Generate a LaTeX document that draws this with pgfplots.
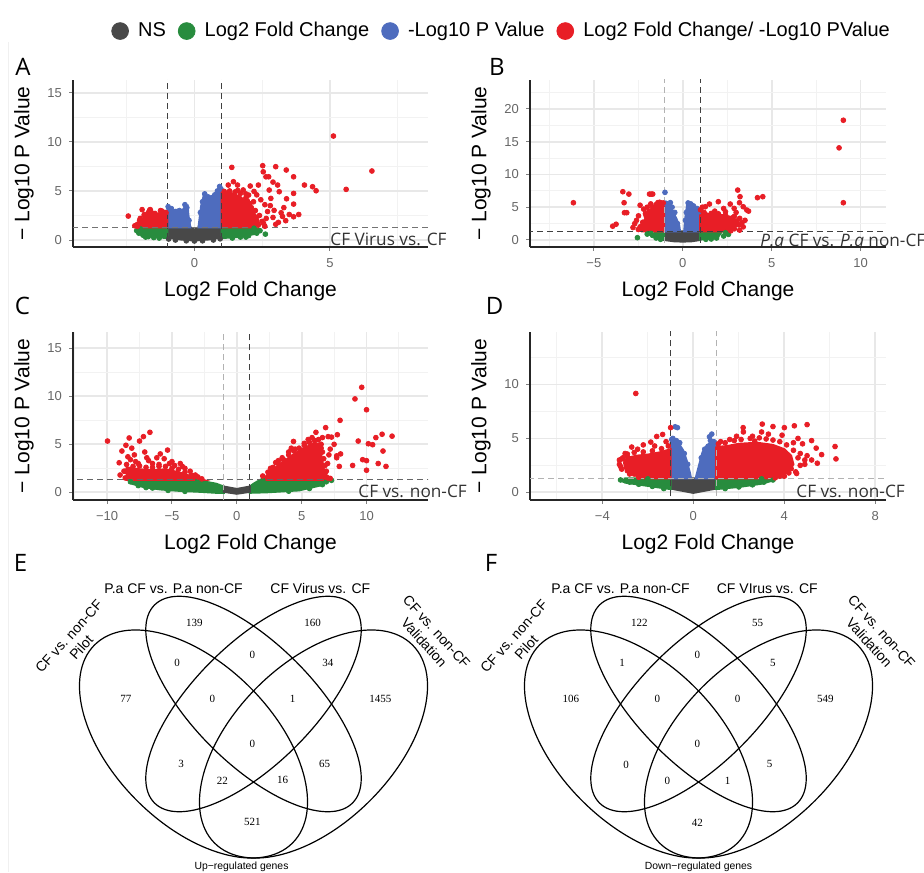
\documentclass[border=0pt]{standalone}
\usepackage{fontspec}
\setmainfont{Liberation Sans}
\newfontfamily\annfont{Open Sans}
\newfontfamily\numfont{Liberation Serif}
\usepackage{pgfplots}
\pgfplotsset{compat=1.18}

\definecolor{nsgrey}{RGB}{72,72,72}
\definecolor{fcgreen}{RGB}{40,140,62}
\definecolor{pblue}{RGB}{78,108,190}
\definecolor{bothred}{RGB}{232,30,38}

\pgfplotsset{
  volc/.style={
    scale only axis, anchor=south west,
    axis x line*=bottom, axis y line*=left,
    axis line style={black!85, line width=0.8pt},
    grid=both,
    major grid style={black!9, line width=0.9pt},
    minor grid style={black!5, line width=0.5pt},
    tick style={black!50, line width=0.5pt}, tick align=outside,
    major tick length=2pt, minor tick length=0pt,
    ticklabel style={font=\fontsize{6.5}{7}\selectfont, text=black!60},
    xlabel={Log2 Fold Change}, ylabel={− Log10 P Value},
    label style={font=\fontsize{10.5}{12}\selectfont},
    /pgf/number format/assume math mode=true,
    clip=true,
  },
  pts/.style={only marks, mark=*, mark size=1.2pt, forget plot, color=#1},
  blob/.style={fill=#1, draw=#1, line width=1pt, forget plot},
  dk/.style={black!75, line width=0.5pt, dash pattern=on 3pt off 2pt, forget plot},
  lt/.style={black!30, line width=0.5pt, dash pattern=on 3pt off 2pt, forget plot},
  venn/.style={x=200pt, y=200pt, xmin=0, xmax=1, ymin=0.15, ymax=1,
    anchor=south west, hide axis, clip=false},
}

\begin{document}
\begin{tikzpicture}
\useasboundingbox (0,0) rectangle (462pt,436pt);
\draw[black!6, line width=0.5pt] (4pt,0pt) -- (4pt,415pt);

% ---------------- A ----------------
\begin{axis}[volc, at={(36.5pt,312.5pt)}, width=177.5pt, height=83.5pt,
  xmin=-4.48, xmax=8.62, ymin=-0.71, ymax=16.3,
  xtick={0,5}, minor xtick={-2.5,2.5,7.5},
  ytick={0,5,10,15}, minor ytick={2.5,7.5,12.5},
  legend style={at={(axis description cs:1.21,1.293)}, anchor=center,
    draw=none, fill=none, legend columns=4,
    font=\fontsize{10}{12}\selectfont,
    /tikz/every even column/.append style={column sep=4pt}},
  legend image code/.code={\fill[#1] (0pt,0pt) circle (4.2pt); \path[draw=none,fill=none] (-4.2pt,0pt) (7pt,0pt);},
]
  \addplot[blob=nsgrey] coordinates {(-1,1.3) (-1,0.25) (-0.5,0.05) (0,-0.05) (0.5,0.05) (1,0.25) (1,1.3) (0.15,1.3) (0,1.05) (-0.15,1.3)} -- cycle;
  \addplot[blob=fcgreen] coordinates {(-1,1.3) (-1,0.2) (-1.5,0.3) (-2.0,0.6) (-2.1,1.0) (-1.9,1.3)} -- cycle;
  \addplot[blob=fcgreen] coordinates {(1,1.3) (1,0.2) (1.6,0.3) (2.2,0.6) (2.4,1.0) (2.3,1.3)} -- cycle;
  \addplot[blob=pblue] coordinates {(-1,1.3) (-1,3.3) (-0.8,3.0) (-0.6,3.1) (-0.5,2.8) (-0.35,3.4) (-0.25,3.5) (-0.22,2.5) (-0.15,1.3)} -- cycle;
  \addplot[blob=pblue] coordinates {(0.15,1.3) (0.25,3.5) (0.35,4.6) (0.45,4.3) (0.6,4.2) (0.8,4.9) (0.95,5.4) (1,5.3) (1,1.3)} -- cycle;
  \addplot[blob=bothred] coordinates {(-1,1.3) (-1,2.7) (-1.2,2.9) (-1.4,2.6) (-1.6,3.0) (-1.8,2.4) (-2.0,1.9) (-2.05,1.3)} -- cycle;
  \addplot[blob=bothred] coordinates {(1,1.3) (1,4.8) (1.4,4.75) (1.7,4.4) (1.9,3.9) (2.1,3.1) (2.3,2.4) (2.4,1.6) (2.35,1.3)} -- cycle;
  \addplot[pts=nsgrey] coordinates {(-0.95,0.1) (-0.7,0.0) (0.7,0.0) (0.95,0.12) (0,-0.1) (-0.3,-0.08) (0.3,-0.08)};
  \addplot[pts=fcgreen] coordinates {(-2.13,0.95) (-2.05,0.7) (-1.9,0.5) (-1.7,0.35) (-1.5,0.25) (-1.3,0.2) (-2.0,1.15) (-1.8,0.3)
    (2.42,0.95) (2.3,0.7) (2.0,0.45) (1.7,0.3) (1.4,0.2) (2.62,0.6) (2.2,1.2) (1.9,0.3)};
  \addplot[pts=pblue] coordinates {(-0.97,3.4) (-0.85,3.2) (-0.7,2.9) (-0.55,3.0) (-0.35,3.6) (-0.28,3.3) (-0.2,2.0) (-0.6,2.7)
    (0.38,4.7) (0.5,4.4) (0.62,4.3) (0.75,4.6) (0.85,5.0) (0.93,5.45) (0.22,2.8) (0.3,3.9) (0.98,5.2)};
  \addplot[pts=bothred] coordinates {(-2.44,2.44) (-1.93,3.1) (-1.63,3.1) (-2.0,2.2) (-2.1,1.6) (-1.7,2.8) (-1.5,2.7) (-1.2,2.95)
    (-2.2,1.45) (-1.85,2.6) (-1.3,2.5) (-1.1,2.8) (-1.05,2.8) (-1.25,3.0) (-1.45,2.7) (-1.65,3.05) (-1.85,2.5) (-2.02,2.0) (-2.1,1.4)
    (1.38,7.40) (2.52,7.57) (2.54,6.95) (2.64,6.44) (2.74,6.44) (3.0,7.47) (3.39,7.13) (3.66,6.44) (4.06,5.6) (4.36,5.43)
    (4.49,5.02) (3.66,4.75) (3.66,3.66) (3.66,2.37) (3.85,2.6) (3.07,5.6) (3.13,4.92) (2.76,5.09) (2.82,4.24) (3.2,2.78)
    (3.37,1.97) (2.94,3.02) (2.36,5.6) (2.06,5.5) (2.0,4.58) (1.44,5.94) (1.59,5.6) (1.25,5.6) (2.55,1.7) (2.36,1.53)
    (2.18,3.9) (5.13,10.59) (6.55,7.03) (5.6,5.16) (2.3,4.6) (2.6,3.6) (2.7,2.9) (2.9,2.3) (3.1,1.8) (2.45,4.1)
    (2.8,3.5) (3.3,3.3) (3.5,2.6) (1.8,5.1) (2.2,4.95) (2.9,5.9) (3.4,4.2) (2.65,2.2) (3.0,1.6) (1.9,4.7) (3.25,2.4)
    (1.1,4.95) (1.3,5.0) (1.5,4.9) (1.7,4.75) (1.9,4.3) (2.05,3.7) (2.25,3.0) (2.4,2.5) (2.5,1.9) (1.2,4.7) (1.6,5.05)
    (2.1,3.3) (2.3,2.0) (1.95,4.0) (2.6,1.4)};
  \addplot[dk] coordinates {(-1,-5) (-1,30)};
  \addplot[dk] coordinates {(1,-5) (1,30)};
  \addplot[black!55, line width=0.5pt, dash pattern=on 3pt off 2pt, forget plot] coordinates {(-20,1.3) (20,1.3)};
  \addlegendimage{nsgrey}\addlegendentry{NS}
  \addlegendimage{fcgreen}\addlegendentry{Log2 Fold Change}
  \addlegendimage{pblue}\addlegendentry{-Log10 P Value}
  \addlegendimage{bothred}\addlegendentry{Log2 Fold Change/ -Log10 PValue}
\end{axis}

% ---------------- B ----------------
\begin{axis}[volc, at={(265pt,312.5pt)}, width=178pt, height=83.5pt,
  xmin=-8.59, xmax=11.43, ymin=-1.07, ymax=24.4,
  xtick={-5,0,5,10}, xticklabels={−5,0,5,10}, minor xtick={-7.5,-2.5,2.5,7.5},
  ytick={0,5,10,15,20}, minor ytick={2.5,7.5,12.5,17.5,22.5},
]
  \addplot[blob=nsgrey] coordinates {(-1.05,1.3) (-1.05,0.0) (-0.5,-0.2) (0,-0.25) (0.5,-0.2) (0.97,0.0) (0.97,1.3)} -- cycle;
  \addplot[blob=fcgreen] coordinates {(-1.05,1.3) (-1.05,0.1) (-1.4,0.2) (-1.6,0.6) (-1.6,1.3)} -- cycle;
  \addplot[blob=fcgreen] coordinates {(0.97,1.3) (0.97,0.05) (1.5,0.2) (2.0,0.5) (2.2,1.3)} -- cycle;
  \addplot[blob=pblue] coordinates {(-1.05,1.3) (-1.05,5.5) (-0.75,5.2) (-0.55,4.3) (-0.35,3.2) (-0.2,2.2) (-0.15,1.3)} -- cycle;
  \addplot[blob=pblue] coordinates {(0.08,1.3) (0.15,3.5) (0.25,5.5) (0.45,5.6) (0.7,5.0) (0.97,4.4) (0.97,1.3)} -- cycle;
  \addplot[blob=bothred] coordinates {(-1.05,1.3) (-1.05,5.5) (-1.3,5.6) (-1.6,5.2) (-1.9,4.2) (-2.1,3.3) (-2.3,2.4) (-2.4,1.8) (-2.3,1.3)} -- cycle;
  \addplot[blob=bothred] coordinates {(0.97,1.3) (0.97,4.5) (1.4,4.0) (2.0,3.9) (2.6,3.6) (3.0,3.0) (3.1,2.4) (2.8,1.6) (2.6,1.3)} -- cycle;
  \addplot[pts=fcgreen] coordinates {(-2.55,0.35) (-1.7,0.7) (-1.5,0.3) (-1.25,0.1) (-1.8,1.0) (-2.0,0.9)
    (2.57,0.85) (2.3,0.6) (1.9,0.3) (1.6,0.15) (2.4,1.1) (1.3,0.1)};
  \addplot[pts=pblue] coordinates {(-1.0,7.26) (-0.95,5.6) (-0.8,5.4) (-0.6,5.0) (-0.45,4.2) (-0.3,2.5) (-0.7,5.7)
    (0.3,5.65) (0.45,5.5) (0.6,5.2) (0.8,4.8) (0.9,4.3) (0.15,3.0) (0.2,4.2)};
  \addplot[pts=bothred] coordinates {(-6.15,5.68) (-3.94,2.1) (-3.75,2.4) (-3.37,7.36) (-3.03,7.0) (-3.3,5.68) (-3.28,4.16)
    (-3.15,4.16) (-2.40,5.3) (-2.49,3.68) (-2.3,2.15) (-1.87,7.0) (-1.69,7.0) (-1.78,7.0) (-2.6,3.0) (-2.2,4.7) (-2.0,5.0)
    (-1.8,5.5) (-1.4,5.7) (-2.7,2.5) (-2.5,1.6) (-2.1,4.0) (-2.8,1.9) (-1.2,5.6)
    (-1.1,5.65) (-1.3,5.75) (-1.5,5.4) (-1.7,5.0) (-1.9,4.4) (-2.05,3.6) (-2.25,2.7) (-2.4,2.0)
    (3.09,7.61) (3.22,6.6) (3.19,5.68) (2.89,4.82) (2.67,5.48) (2.0,5.84) (1.5,5.48) (1.27,5.07) (4.2,6.45) (4.5,6.6)
    (3.4,5.07) (3.6,4.57) (3.7,4.4) (3.33,2.62) (3.2,3.3) (2.9,3.6) (9.03,18.26) (8.79,14.05) (9.03,5.68) (2.4,4.3)
    (3.5,3.0) (2.3,4.8) (1.1,5.0) (3.0,4.2) (1.8,4.4) (3.4,2.0) (2.2,2.0) (3.2,1.5)
    (1.0,4.6) (1.2,4.2) (1.6,4.05) (2.0,4.0) (2.4,3.8) (2.8,3.4) (3.05,2.9) (3.15,2.3) (2.9,1.7) (2.7,1.4)};
  \addplot[lt] coordinates {(-1,-5) (-1,30)};
  \addplot[dk] coordinates {(1,-5) (1,30)};
  \addplot[dk] coordinates {(-20,1.3) (20,1.3)};
\end{axis}

% ---------------- C ----------------
\begin{axis}[volc, at={(36.5pt,186pt)}, width=177.5pt, height=84pt,
  xmin=-12.63, xmax=14.74, ymin=-0.8, ymax=16.7,
  xtick={-10,-5,0,5,10}, xticklabels={−10,−5,0,5,10}, minor xtick={-12.5,-7.5,-2.5,2.5,7.5,12.5},
  ytick={0,5,10,15}, minor ytick={2.5,7.5,12.5},
]
  \addplot[blob=fcgreen] coordinates {(-8.1,1.3) (-8.1,0.9) (-7.2,0.55) (-5.9,0.3) (-4.4,0.15) (-2.8,0.05) (-1.6,-0.05) (-1,-0.05)
    (-1,0.6) (-1.6,0.9) (-2.8,1.2) (-3.2,1.3)} -- cycle;
  \addplot[blob=fcgreen] coordinates {(1,0.6) (1,-0.05) (2.3,0.0) (4.8,0.2) (6.4,0.7) (6.8,1.0) (6.8,1.3) (1.8,1.3) (1.3,0.9)} -- cycle;
  \addplot[blob=nsgrey] coordinates {(-1,0.6) (-1,0.05) (0,-0.15) (1,0.05) (1,0.6) (0,0.35)} -- cycle;
  \addplot[blob=bothred] coordinates {(-8.5,1.3) (-8.5,2.6) (-7.5,2.4) (-6.5,2.3) (-5.5,2.4) (-4.5,2.1) (-3.8,1.8) (-3.0,1.45) (-2.6,1.3)} -- cycle;
  \addplot[blob=bothred] coordinates {(2.0,1.3) (2.4,1.9) (3.1,2.7) (4,3.6) (5,4.5) (5.8,5.0) (6.3,5.1) (6.5,4.0) (6.7,2.5) (6.9,1.3)} -- cycle;
  \addplot[pts=fcgreen] coordinates {(-8.2,1.1) (-7.6,0.7) (-6.5,0.45) (-5.3,0.2) (6.9,1.1) (6.6,0.8) (5.6,0.4) (-3.0,1.25)
    (2.0,1.25) (-7.0,0.5) (4.0,0.12) (-4.0,0.1) (7.3,1.25)};
  \addplot[pts=bothred] coordinates {(-9.97,5.34) (-9.07,3.08) (-8.86,4.3) (-8.55,4.9) (-8.3,5.66) (-7.5,5.34) (-7.2,5.8)
    (-6.7,6.25) (-8.1,4.6) (-7.9,3.9) (-6.94,3.6) (-6.17,3.6) (-5.9,4.0) (-5.34,4.4) (-4.36,3.0) (-5.0,3.2) (-7.6,3.0)
    (-8.2,3.4) (-6.5,3.0) (-5.6,3.5) (-4.8,2.8) (-3.6,2.2) (-3.2,1.8) (-8.7,2.2) (-9.0,1.8) (-7.1,4.2) (-6.0,2.9)
    (-4.0,2.5) (-8.4,3.7)
    (-8.5,2.9) (-8.0,2.7) (-7.5,2.75) (-7.0,2.6) (-6.5,2.6) (-6.0,2.7) (-5.5,2.7) (-5.0,2.5) (-4.5,2.4) (-4.0,2.1)
    (-3.5,1.8) (-3.0,1.6) (-2.7,1.4) (-8.6,1.5) (-8.6,2.2) (-7.8,3.2) (-6.8,3.3) (-5.2,3.0) (-4.2,2.7)
    (9.63,10.94) (9.11,9.73) (10.0,8.6) (7.96,7.5) (6.85,6.74) (7.04,5.8) (7.3,5.75) (7.75,6.0) (7.5,5.0) (9.36,5.34)
    (10.14,5.06) (10.47,4.96) (10.72,5.7) (11.2,6.05) (11.97,5.85) (11.27,4.3) (9.7,3.4) (10.0,3.3) (10.9,3.0) (11.5,2.7)
    (10.0,2.3) (8.93,2.8) (7.9,2.7) (7.7,3.8) (7.1,3.9) (7.2,1.45) (4.37,5.3) (6.1,6.25) (6.6,5.7) (5.5,5.5) (6.0,5.0)
    (7.0,3.0) (6.8,2.0) (7.2,4.5) (3.5,3.6) (4.5,4.5) (5.2,5.1) (6.5,4.6) (2.6,2.5) (3.2,3.3) (4.0,4.2) (6.9,1.6)
    (7.7,3.6) (8.0,4.0)
    (2.0,1.7) (2.4,2.1) (2.8,2.6) (3.2,3.0) (3.6,3.4) (4.0,3.9) (4.4,4.3) (4.8,4.6) (5.2,4.9) (5.6,5.2) (6.0,5.4)
    (6.3,5.5) (6.5,5.0) (6.6,4.2) (6.7,3.5) (6.8,2.8) (6.9,2.2) (7.0,1.5) (3.0,3.1) (4.2,4.6) (5.8,5.7)};
  \addplot[lt] coordinates {(-1,-5) (-1,30)};
  \addplot[dk] coordinates {(1,-5) (1,30)};
  \addplot[black!60, line width=0.5pt, dash pattern=on 3pt off 2pt, forget plot] coordinates {(-20,1.3) (20,1.3)};
\end{axis}

% ---------------- D ----------------
\begin{axis}[volc, at={(265pt,186pt)}, width=178pt, height=84pt,
  xmin=-7.18, xmax=8.47, ymin=-0.71, ymax=14.87,
  xtick={-4,0,4,8}, xticklabels={−4,0,4,8}, minor xtick={-6,-2,2,6},
  ytick={0,5,10}, minor ytick={2.5,7.5,12.5},
]
  \addplot[blob=nsgrey] coordinates {(-1,1.3) (-1,0.35) (-0.5,0.15) (0,-0.05) (0.5,0.15) (1,0.35) (1,1.3)} -- cycle;
  \addplot[blob=fcgreen] coordinates {(-1,1.3) (-1,0.3) (-2,0.6) (-3,0.9) (-3.2,1.1) (-3.0,1.3)} -- cycle;
  \addplot[blob=fcgreen] coordinates {(1,1.3) (1,0.3) (2,0.5) (3,0.8) (3.5,1.1) (3.4,1.3)} -- cycle;
  \addplot[blob=pblue] coordinates {(-1,1.3) (-1,4.6) (-0.85,4.9) (-0.6,4.4) (-0.45,3.9) (-0.3,3.0) (-0.15,1.8) (-0.1,1.3)} -- cycle;
  \addplot[blob=pblue] coordinates {(0.1,1.3) (0.25,2.5) (0.4,3.7) (0.6,4.4) (0.8,4.6) (1,4.4) (1,1.3)} -- cycle;
  \addplot[blob=bothred] coordinates {(-1,1.3) (-1,4.0) (-1.5,3.7) (-2,3.5) (-2.5,3.4) (-2.9,3.2) (-3.05,2.8) (-3.0,2.2) (-2.6,1.6) (-2.2,1.3)} -- cycle;
  \addplot[blob=bothred] coordinates {(1,1.3) (1,4.2) (1.5,4.3) (2,4.5) (2.8,4.6) (3.5,4.4) (4.0,4.0) (4.3,3.4) (4.4,2.6) (4.2,1.9) (3.5,1.3)} -- cycle;
  \addplot[pts=fcgreen] coordinates {(-3.2,1.15) (-2.8,0.95) (-2.4,0.75) (-1.8,0.55) (-1.3,0.35) (-2.0,1.25)
    (3.5,1.15) (3.1,0.95) (2.6,0.7) (2.0,0.5) (1.4,0.35) (3.0,1.25)};
  \addplot[pts=pblue] coordinates {(-0.8,6.08) (-0.7,6.0) (-0.9,5.0) (-0.75,4.8) (-0.6,4.6) (-0.95,4.9) (-0.4,3.6) (-0.25,2.6)
    (0.81,5.4) (0.71,5.15) (0.75,4.8) (0.9,4.7) (0.5,4.0) (0.35,3.2) (0.95,4.5)};
  \addplot[pts=bothred] coordinates {(-2.53,9.17) (-2.71,4.2) (-1.87,4.66) (-1.61,5.18) (-1.35,5.37) (-1.0,6.0) (-2.2,4.4)
    (-2.45,4.0) (-3.0,3.6) (-3.25,3.0) (-3.2,2.4) (-2.9,2.0) (-1.2,4.7) (-1.7,4.3) (-2.9,3.3) (-2.6,1.7) (-3.1,3.2)
    (-1.1,4.3) (-1.4,4.05) (-1.8,3.85) (-2.2,3.75) (-2.6,3.7) (-2.9,3.55) (-3.15,3.1) (-3.25,2.6) (-3.15,2.15) (-2.8,1.7) (-2.4,1.4)
    (2.19,6.0) (3.03,6.33) (3.5,6.1) (4.0,6.0) (4.44,6.17) (5.0,6.28) (5.2,4.8) (5.4,4.1) (5.64,3.5) (6.23,4.25)
    (6.27,3.1) (5.45,2.7) (4.9,2.6) (4.54,1.75) (4.2,1.8) (4.7,3.6) (5.0,3.4) (4.8,4.5) (3.3,5.4) (2.6,5.2) (1.6,4.9)
    (3.9,5.3) (4.6,5.0) (4.3,2.2) (4.9,3.0) (3.8,1.5) (4.4,4.6) (2.2,5.6) (1.2,4.7) (5.2,3.0)
    (1.1,4.5) (1.4,4.6) (1.8,4.8) (2.1,4.9) (2.5,5.0) (2.9,5.05) (3.2,4.95) (3.5,4.85) (3.8,4.7) (4.1,4.4) (4.4,3.9)
    (4.6,3.2) (4.7,2.5) (4.5,1.9) (4.0,1.5) (3.6,1.35) (2.7,4.75) (1.9,5.2) (3.0,5.6)};
  \addplot[dk] coordinates {(-1,-5) (-1,30)};
  \addplot[lt] coordinates {(1,-5) (1,30)};
  \addplot[lt] coordinates {(-20,1.3) (20,1.3)};
\end{axis}

% panel annotations
\node[font=\annfont\fontsize{8.6}{10}\selectfont, text=black!80, anchor=west, inner sep=0pt] at (165pt,316.5pt) {CF Virus vs. CF};
\node[font=\annfont\fontsize{8.6}{10}\selectfont, text=black!80, anchor=west, inner sep=0pt] at (380pt,316pt) {{\itshape P.a} CF vs. {\itshape P.a} non-CF};
\node[font=\annfont\fontsize{8.6}{10}\selectfont, text=black!80, anchor=west, inner sep=0pt] at (179pt,190.5pt) {CF vs. non-CF};
\node[font=\annfont\fontsize{8.6}{10}\selectfont, text=black!80, anchor=west, inner sep=0pt] at (398pt,190.5pt) {CF vs. non-CF};

% ---------------- E ----------------
\begin{axis}[venn, at={(26.75pt,0pt)}]
  \draw[line width=0.6pt, rotate around={-45:(axis cs:0.35,0.47)}] (axis cs:0.35,0.47) ellipse [x radius=70pt, y radius=40pt];
  \draw[line width=0.6pt, rotate around={-45:(axis cs:0.5,0.57)}] (axis cs:0.5,0.57) ellipse [x radius=70pt, y radius=30pt];
  \draw[line width=0.6pt, rotate around={45:(axis cs:0.5,0.57)}] (axis cs:0.5,0.57) ellipse [x radius=70pt, y radius=30pt];
  \draw[line width=0.6pt, rotate around={45:(axis cs:0.65,0.47)}] (axis cs:0.65,0.47) ellipse [x radius=70pt, y radius=40pt];
  \begin{scope}[every node/.style={font=\numfont\fontsize{5.5}{6}\selectfont}]
    \node at (axis cs:0.352,0.772) {139};
    \node at (axis cs:0.648,0.772) {160};
    \node at (axis cs:0.309,0.672) {0};
    \node at (axis cs:0.497,0.692) {0};
    \node at (axis cs:0.686,0.672) {34};
    \node at (axis cs:0.181,0.583) {77};
    \node at (axis cs:0.397,0.583) {0};
    \node at (axis cs:0.598,0.583) {1};
    \node at (axis cs:0.817,0.583) {1455};
    \node at (axis cs:0.497,0.471) {0};
    \node at (axis cs:0.319,0.419) {3};
    \node at (axis cs:0.678,0.419) {65};
    \node at (axis cs:0.422,0.379) {22};
    \node at (axis cs:0.573,0.379) {16};
    \node at (axis cs:0.497,0.274) {521};
  \end{scope}
  \begin{scope}[every node/.style={font=\fontsize{7}{8.4}\selectfont, align=center, inner sep=1pt}]
    \node at (axis cs:0.30,0.859) {P.a CF vs. P.a non-CF};
    \node at (axis cs:0.667,0.859) {CF Virus vs. CF};
    \node[rotate=48] at (axis cs:0.054,0.725) {CF vs. non-CF\\Pilot};
    \node[rotate=-48] at (axis cs:0.942,0.737) {CF vs. non-CF\\Validation};
  \end{scope}
  \node[font=\fontsize{5.2}{6}\selectfont] at (axis cs:0.47,0.162) {Up−regulated genes};
\end{axis}

% ---------------- F ----------------
\begin{axis}[venn, at={(249.25pt,0pt)}]
  \draw[line width=0.6pt, rotate around={-45:(axis cs:0.35,0.47)}] (axis cs:0.35,0.47) ellipse [x radius=70pt, y radius=40pt];
  \draw[line width=0.6pt, rotate around={-45:(axis cs:0.5,0.57)}] (axis cs:0.5,0.57) ellipse [x radius=70pt, y radius=30pt];
  \draw[line width=0.6pt, rotate around={45:(axis cs:0.5,0.57)}] (axis cs:0.5,0.57) ellipse [x radius=70pt, y radius=30pt];
  \draw[line width=0.6pt, rotate around={45:(axis cs:0.65,0.47)}] (axis cs:0.65,0.47) ellipse [x radius=70pt, y radius=40pt];
  \begin{scope}[every node/.style={font=\numfont\fontsize{5.5}{6}\selectfont}]
    \node at (axis cs:0.352,0.772) {122};
    \node at (axis cs:0.648,0.772) {55};
    \node at (axis cs:0.309,0.672) {1};
    \node at (axis cs:0.497,0.692) {0};
    \node at (axis cs:0.686,0.672) {5};
    \node at (axis cs:0.181,0.583) {106};
    \node at (axis cs:0.397,0.583) {0};
    \node at (axis cs:0.598,0.583) {0};
    \node at (axis cs:0.817,0.583) {549};
    \node at (axis cs:0.497,0.471) {0};
    \node at (axis cs:0.319,0.419) {0};
    \node at (axis cs:0.678,0.419) {5};
    \node at (axis cs:0.422,0.379) {0};
    \node at (axis cs:0.573,0.379) {1};
    \node at (axis cs:0.497,0.274) {42};
  \end{scope}
  \begin{scope}[every node/.style={font=\fontsize{7}{8.4}\selectfont, align=center, inner sep=1pt}]
    \node at (axis cs:0.305,0.859) {P.a CF vs. P.a non-CF};
    \node at (axis cs:0.672,0.859) {CF VIrus vs. CF};
    \node[rotate=48] at (axis cs:0.054,0.725) {CF vs. non-CF\\Pilot};
    \node[rotate=-48] at (axis cs:0.942,0.737) {CF vs. non-CF\\Validation};
  \end{scope}
  \node[font=\fontsize{5.2}{6}\selectfont] at (axis cs:0.5,0.162) {Down−regulated genes};
\end{axis}

% panel letters
\begin{scope}[every node/.style={font=\annfont\fontsize{12}{14}\selectfont, inner sep=0pt}]
  \node at (11.5pt,402.75pt) {A};
  \node at (248.5pt,402.75pt) {B};
  \node at (11.25pt,283.25pt) {C};
  \node at (247.25pt,283.25pt) {D};
  \node at (10.25pt,154.5pt) {E};
  \node at (245.5pt,154.5pt) {F};
\end{scope}
\end{tikzpicture}
\end{document}
